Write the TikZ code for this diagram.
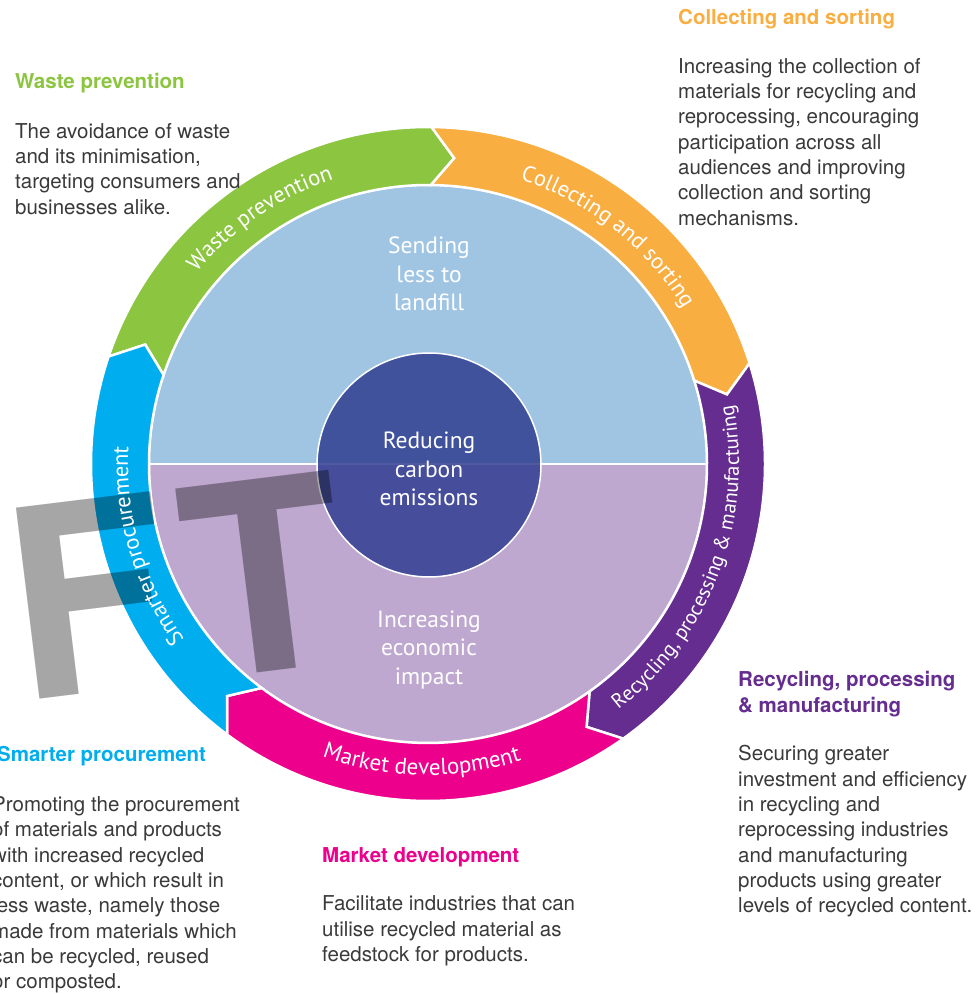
\documentclass[tikz,border=0pt]{standalone}
\usepackage{fontspec}
\setmainfont{TeX Gyre Heros}
\newfontfamily\ringfont{PT Sans}
\usetikzlibrary{decorations.text}
\definecolor{cgreen}{HTML}{8CC540}
\definecolor{corange}{HTML}{F9AE41}
\definecolor{cpurple}{HTML}{652D8F}
\definecolor{cmagenta}{HTML}{EC008C}
\definecolor{ccyan}{HTML}{00AEEF}
\definecolor{lblue}{HTML}{A0C5E3}
\definecolor{lav}{HTML}{BFA8CF}
\definecolor{navy}{RGB}{49,62,145}
\definecolor{bodygray}{HTML}{3A3A3A}
\newcommand\txtblock[1]{\begin{tabular}[t]{@{}l@{}}#1\end{tabular}}
\newcommand\ctrblock[1]{\begin{tabular}[t]{@{}c@{}}#1\end{tabular}}
\begin{document}
\begin{tikzpicture}[x=1pt,y=1pt,
  body/.style={anchor=base west, inner sep=0pt, text=bodygray, font=\fontsize{20.5}{25.3}\selectfont},
  head/.style={anchor=base west, inner sep=0pt, font=\bfseries\fontsize{20.5}{25.3}\selectfont},
  innertxt/.style={anchor=base, inner sep=0pt, text=white, font=\ringfont\fontsize{23.5}{28.3}\selectfont},
  seg/.style={draw=white, line width=2.5pt, line join=miter},
  ringtext/.style 2 args={decorate, decoration={text along path, text align=center, text color=white, text={|\ringfont\fontsize{#1}{26}\selectfont|#2}}}
]
\useasboundingbox (0,0) rectangle (977,994);
\clip (0,0) rectangle (977,994);
\fill[white] (0,0) rectangle (977,994);

\begin{scope}[shift={(428,530)}]
  % inner disk
  \fill[lblue] (0:279) arc[start angle=0, end angle=180, radius=279] -- cycle;
  \fill[lav] (180:279) arc[start angle=180, end angle=360, radius=279] -- cycle;
  \draw[white, line width=2pt] (180:279) -- (0:279);
  \draw[white, line width=2pt] (0,0) circle[radius=279];
  % ring segments
  \foreach \s/\e/\col in {161.4/89.4/cgreen, 89.4/17.4/corange, 17.4/-54.6/cpurple, -54.6/-126.6/cmagenta, -126.6/-198.6/ccyan}
    \filldraw[seg, fill=\col] (\s:337) arc[start angle=\s, end angle=\e, radius=337] -- ({\e-4.3}:307) -- (\e:279) arc[start angle=\e, end angle=\s, radius=279] -- ({\s-4.3}:307) -- cycle;
  % centre circle
  \fill[navy, fill opacity=0.85] (1,-1) circle[radius=112];
  \draw[white, line width=1.5pt] (1,-1) circle[radius=112];
\end{scope}

% watermark
\node[anchor=base east, rotate=7, inner sep=0pt, text=black, text opacity=0.35, font=\bfseries\fontsize{264}{264}\selectfont] (wm) at (356,333.4) {DRA\kern 24pt F\kern 15pt T};

\begin{scope}[shift={(428,530)}]
  \path[ringtext={22.5}{Waste prevention}] (164.4:300) arc[start angle=164.4, end angle=84.4, radius=300];
  \path[ringtext={22.5}{Collecting and sorting}] (91.7:299) arc[start angle=91.7, end angle=11.7, radius=299];
  \path[ringtext={20.5}{Recycling, processing {\&} manufacturing}] (-70.6:311) arc[start angle=-70.6, end angle=29.4, radius=311];
  \path[ringtext={23}{Market development}] (-141.2:311) arc[start angle=-141.2, end angle=-41.2, radius=311];
  \path[ringtext={22.5}{Smarter procurement}] (236.2:300) arc[start angle=236.2, end angle=156.2, radius=300];
\end{scope}

% inner texts
\node[innertxt] (landfill) at (429,740) {\ctrblock{Sending\\less to\\landfill}};
\node[innertxt] (carbon) at (429,545) {\ctrblock{Reducing\\carbon\\emissions}};
\node[innertxt] (economic) at (429,366.3) {\ctrblock{Increasing\\economic\\impact}};

% headings and descriptions
\node[head, text=cgreen] (hwaste) at (15,905) {Waste prevention};
\node[body] (bwaste) at (15,855.7) {\txtblock{The avoidance of waste\\and its minimisation,\\targeting consumers and\\businesses alike.}};

\node[head, text=corange] (hcoll) at (678,969) {Collecting and sorting};
\node[body] (bcoll) at (678,920.7) {\txtblock{Increasing the collection of\\materials for recycling and\\reprocessing, encouraging\\participation across all\\audiences and improving\\collection and sorting\\mechanisms.}};

\node[head, text=cpurple] (hrec) at (738,307) {\txtblock{Recycling, processing\\\& manufacturing}};
\node[body] (brec) at (738,233) {\txtblock{Securing greater\\investment and efficiency\\in recycling and\\reprocessing industries\\and manufacturing\\products using greater\\levels of recycled content.}};

\node[head, text=ccyan] (hsmart) at (-3,232.3) {Smarter procurement};
\node[body] (bsmart) at (-8,182.3) {\txtblock{Promoting the procurement\\of materials and products\\with increased recycled\\content, or which result in\\less waste, namely those\\made from materials which\\can be recycled, reused\\or composted.}};

\node[head, text=cmagenta] (hmarket) at (322,131) {Market development};
\node[body] (bmarket) at (322,83) {\txtblock{Facilitate industries that can\\utilise recycled material as\\feedstock for products.}};
\end{tikzpicture}
\end{document}
